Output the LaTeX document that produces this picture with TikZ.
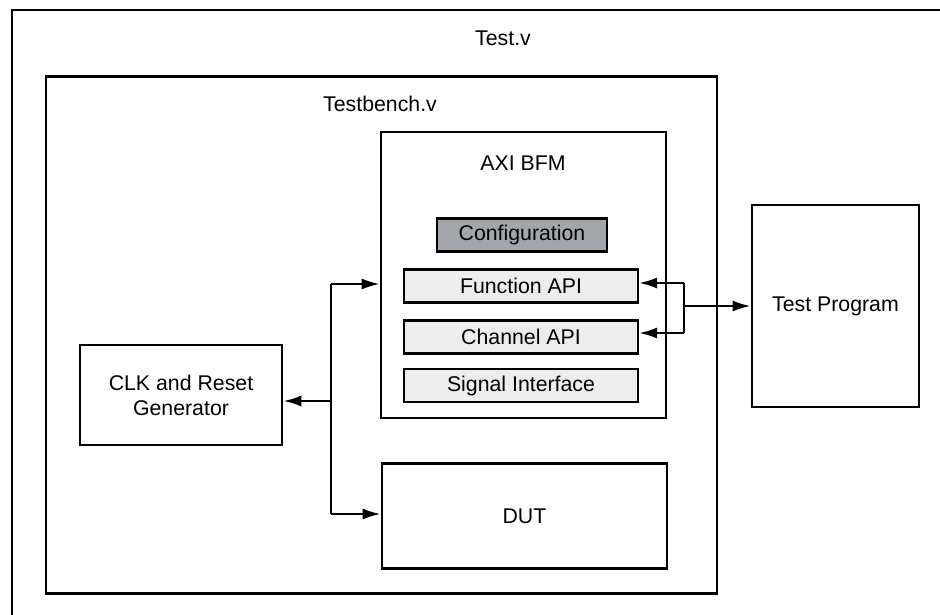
\documentclass[tikz,border=0pt]{standalone}
\usepackage{fontspec}
\setmainfont{Liberation Sans}
\usetikzlibrary{arrows.meta}
\definecolor{cfggray}{HTML}{A2A6AA}
\definecolor{apigray}{HTML}{EDEDED}
\begin{document}
\begin{tikzpicture}[x=1pt,y=-1pt,font=\fontsize{21.3}{25}\selectfont,
  blk/.style={draw,line width=2.6pt,inner sep=0pt},
  sub/.style={draw,line width=2.2pt,fill=apigray,minimum width=234,minimum height=33,inner sep=0pt},
  wire/.style={line width=2.2pt},
  arr/.style={line width=2.2pt,-{Latex[length=18pt,width=11pt]}}]
  \useasboundingbox (0,0) rectangle (940,615); \clip (0,0) rectangle (940,615);
  \draw[line width=2.8pt] (12,10) rectangle (980,660); \node (testv) at (503,38) {Test.v};
  \node[blk,minimum width=671,minimum height=517] (tb) at (381.5,335) {}; \node (tbname) at (380,104) {Testbench.v};
  \node[blk,minimum width=285,minimum height=286] (axi) at (523.5,275) {}; \node (axiname) at (523,163) {AXI BFM};
  \node[sub,fill=cfggray,minimum width=170] (cfg) at (522,235) {Configuration};
  \node[sub] (fapi) at (521,286) {Function API}; \node[sub] (capi) at (521,337) {Channel API}; \node[sub] (sif) at (521,385.5) {Signal Interface};
  \node[blk,minimum width=202,minimum height=100,align=center] (clk) at (181,395) {CLK and Reset\\Generator};
  \node[blk,minimum width=285,minimum height=105] (dut) at (524.5,516) {DUT};
  \node[blk,minimum width=167,minimum height=202] (tp) at (835.5,306) {Test Program};
  \coordinate (busTop) at (331,284); \coordinate (busMid) at (331,401); \coordinate (busBot) at (331,514);
  \coordinate (rTop) at (684,283); \coordinate (rMid) at (684,306); \coordinate (rBot) at (684,333);
  \draw[wire] (busTop) -- (busBot); \draw[arr] (busTop) -- (axi.west |- busTop); \draw[arr] (busMid) -- (clk.east |- busMid); \draw[arr] (busBot) -- (dut.west |- busBot);
  \draw[wire] (rTop) -- (rBot); \draw[arr] (rTop) -- (fapi.east |- rTop); \draw[arr] (rBot) -- (capi.east |- rBot); \draw[arr] (rMid) -- (tp.west |- rMid);
\end{tikzpicture}
\end{document}
